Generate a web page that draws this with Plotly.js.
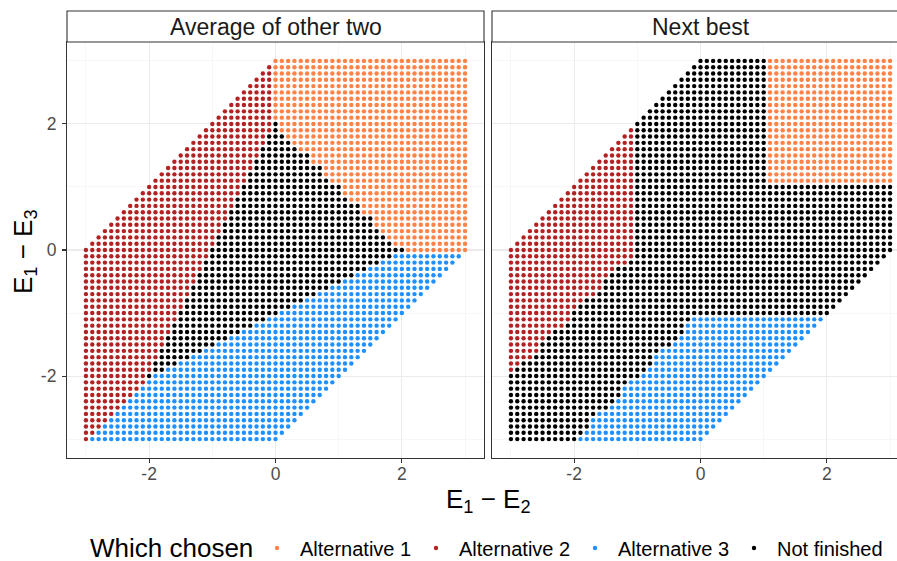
<!DOCTYPE html>
<html><head><meta charset="utf-8">
<script src="https://cdn.plot.ly/plotly-3.0.1.min.js"></script>
<style>html,body{margin:0;padding:0;overflow:hidden;background:#fff}#chart{width:912px;height:561px}</style>
</head><body><div id="chart"></div>
<script>
// ---- data description ----
const panels = ["Average of other two", "Next best"];
const rules = ["average", "nextbest"];
const categories = ["Alternative 1", "Alternative 2", "Alternative 3", "Not finished"];
const colors = ["#FF8247", "#B22222", "#1E90FF", "#000000"];
const legendTitle = "Which chosen";
const gridFrom = [-3];          // lowest E1-E2 / E1-E3 value on the lattice
const gridBy = [0.1];           // lattice step
const gridCount = [61];         // points per axis
const thresholds = [1, 1];      // decision threshold per panel
const maxSpreadSteps = [30];    // |E2-E3| <= 3 (in lattice steps)
const tickVals = [-2, 0, 2];
const tickText = ["-2", "0", "2"];

const FONT = "Liberation Sans, Arial, sans-serif";

// lattice like R's seq(from, by): from + i*by
const lattice = [];
for (let i = 0; i < gridCount[0]; i++) lattice.push(gridFrom[0] + i * gridBy[0]);

function classify(rule, x, y, thr) {
  const E = [0, -x, -y];
  const s = [];
  for (let k = 0; k < 3; k++) {
    const o = [0, 1, 2].filter(m => m !== k).map(m => E[m]);
    if (rule === "average") s.push(E[k] - (o[0] + o[1]) / 2);
    else s.push(E[k] - Math.max(o[0], o[1]));
  }
  let best = 0;
  for (let k = 1; k < 3; k++) if (s[k] > s[best]) best = k;
  return s[best] > thr ? best : 3;
}

const traces = [];
panels.forEach((p, pi) => {
  const xs = [[], [], [], []], ys = [[], [], [], []];
  for (let i = 0; i < lattice.length; i++) {
    for (let j = 0; j < lattice.length; j++) {
      if (Math.abs(j - i) > maxSpreadSteps[0]) continue;
      const c = classify(rules[pi], lattice[i], lattice[j], thresholds[pi]);
      xs[c].push(lattice[i]); ys[c].push(lattice[j]);
    }
  }
  categories.forEach((cat, ci) => {
    traces.push({
      type: "scatter", mode: "markers",
      x: xs[ci], y: ys[ci],
      xaxis: pi === 0 ? "x" : "x2", yaxis: pi === 0 ? "y" : "y2",
      name: cat, legendgroup: cat, showlegend: pi === 0,
      marker: {color: colors[ci], size: 4.4, line: {width: 0}},
      hoverinfo: "skip"
    });
  });
});

const W = 912, H = 561;
const mL = 67, mR = 3, mT = 11, mB = 103;
const pw = W - mL - mR, ph = H - mT - mB;
const panelW = 417, panelH = 416;
const dx1 = panelW / pw, dx2s = (pw - panelW) / pw;
const dy = panelH / ph;

function axis(extra) {
  return Object.assign({
    range: [-3.3, 3.3], tickmode: "array", tickvals: tickVals, ticktext: tickText,
    showgrid: true, gridcolor: "#EBEBEB", gridwidth: 1.1,
    minor: {tick0: -3, dtick: 2, showgrid: true, gridcolor: "#F2F2F2", gridwidth: 0.6, ticks: ""},
    zeroline: false, showline: true, mirror: true, linecolor: "#333333", linewidth: 1.1,
    ticks: "outside", ticklen: 4, tickcolor: "#333333", tickwidth: 1.1,
    tickfont: {family: FONT, size: 17.5, color: "#4D4D4D"},
    fixedrange: true
  }, extra);
}

const stripY0 = dy, stripY1 = 1;
const layout = {
  width: W, height: H,
  margin: {l: mL, r: mR, t: mT, b: mB, pad: 0, autoexpand: false},
  paper_bgcolor: "#FFFFFF", plot_bgcolor: "#FFFFFF",
  showlegend: true, hovermode: false,
  xaxis: axis({domain: [0, dx1], anchor: "y", ticklabelstandoff: -4}),
  xaxis2: axis({domain: [dx2s, 1], anchor: "y2", ticklabelstandoff: -4}),
  yaxis: axis({domain: [0, dy], anchor: "x", ticklabelstandoff: 2}),
  yaxis2: axis({domain: [0, dy], anchor: "x2", showticklabels: false, ticks: ""}),
  shapes: [
    {type: "rect", xref: "paper", yref: "paper", x0: 0, x1: dx1, y0: stripY0, y1: stripY1,
     fillcolor: "#FFFFFF", line: {color: "#333333", width: 1.1}, layer: "above"},
    {type: "rect", xref: "paper", yref: "paper", x0: dx2s, x1: 1, y0: stripY0, y1: stripY1,
     fillcolor: "#FFFFFF", line: {color: "#333333", width: 1.1}, layer: "above"}
  ],
  annotations: [
    {text: panels[0], xref: "paper", yref: "paper", x: dx1 / 2, y: (stripY0 + stripY1) / 2,
     xanchor: "center", yanchor: "middle", showarrow: false, font: {family: FONT, size: 23, color: "#1A1A1A"}},
    {text: panels[1], xref: "paper", yref: "paper", x: (dx2s + 1) / 2, y: (stripY0 + stripY1) / 2,
     xanchor: "center", yanchor: "middle", showarrow: false, font: {family: FONT, size: 23, color: "#1A1A1A"}},
    {text: "E<sub>1</sub> \u2212 E<sub>2</sub>", xref: "paper", yref: "paper", x: 0.5, y: -(500 - 458) / ph,
     xanchor: "center", yanchor: "middle", showarrow: false, font: {family: FONT, size: 26, color: "#000000"}},
    {text: "E<sub>1</sub> \u2212 E<sub>3</sub>", xref: "paper", yref: "paper", x: (25 - mL) / pw, y: (458 - 252) / ph,
     xanchor: "center", yanchor: "middle", textangle: -90, showarrow: false, font: {family: FONT, size: 26, color: "#000000"}},
    {text: legendTitle, xref: "paper", yref: "paper", x: (254 - mL) / pw, y: -(548 - 458) / ph,
     xanchor: "right", yanchor: "middle", height: 24, valign: "middle", borderpad: 0,
     showarrow: false, font: {family: FONT, size: 26, color: "#000000"}}
  ],
  legend: {
    orientation: "h", xref: "paper", x: (254 - mL) / pw, xanchor: "left",
    yref: "container", y: (561 - 548) / 561, yanchor: "middle",
    font: {family: FONT, size: 20, color: "#000000"},
    itemwidth: 36,
    entrywidth: 108, entrywidthmode: "pixels",
    itemsizing: "trace", bgcolor: "rgba(0,0,0,0)", borderwidth: 0
  }
};

Plotly.newPlot("chart", traces, layout, {staticPlot: true, displayModeBar: false});
</script>
</body></html>
